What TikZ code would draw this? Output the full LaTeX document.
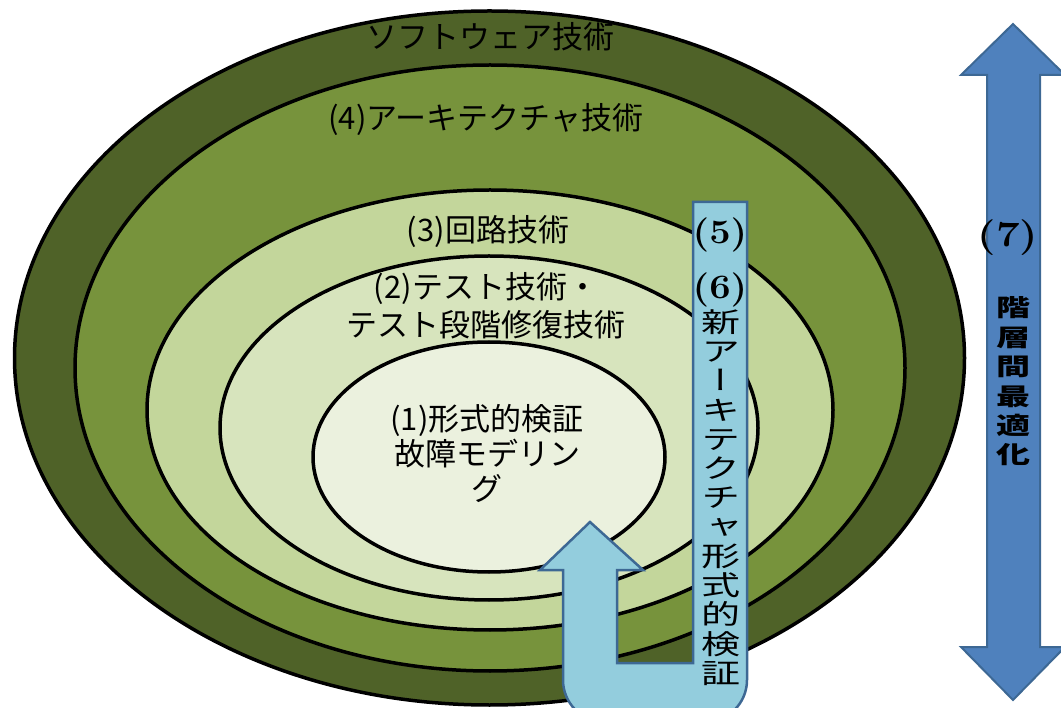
\documentclass[tikz,border=0pt]{standalone}
\usepackage{fontspec}
\usepackage{graphicx}
\newfontfamily\jp{Noto Sans CJK JP}
\newfontfamily\jpv[RawFeature=+vert]{Noto Sans CJK JP}
\definecolor{gA}{HTML}{4F6228}
\definecolor{gB}{HTML}{77933C}
\definecolor{gC}{HTML}{C3D69B}
\definecolor{gD}{HTML}{D7E4BD}
\definecolor{gE}{HTML}{EBF1DE}
\definecolor{lblue}{HTML}{93CDDD}
\definecolor{mblue}{HTML}{4F81BD}
\definecolor{bline}{HTML}{3D6894}
\newcommand\vch[1]{\scalebox{1}[0.7]{#1}}
\begin{document}
\begin{tikzpicture}[x=1pt,y=-1pt,
  ring/.style={draw=black,line width=3.5pt},
  lbl/.style={font=\jp\fontsize{31}{35}\selectfont,inner sep=0pt,align=center},
  vlbl/.style={font=\jpv\fontsize{39}{29.25}\selectfont,inner sep=0pt,align=center},
  numlbl/.style={font=\bfseries\fontsize{38}{38}\selectfont,inner sep=0pt},
  uarrow/.style={draw=bline,line width=2.5pt,fill=lblue,line join=miter},
  darrow/.style={draw=bline,line width=2pt,fill=mblue,line join=miter}]
\useasboundingbox (0,0) rectangle (1061,708);
\clip (0,0) rectangle (1061,708);
% nested ellipses
\draw[ring,fill=gA] (489.5,358) ellipse [x radius=475,y radius=347];
\draw[ring,fill=gB] (490,368) ellipse [x radius=415,y radius=303];
\draw[ring,fill=gC] (490,410) ellipse [x radius=343,y radius=220];
\draw[ring,fill=gD] (489,428) ellipse [x radius=269,y radius=172];
\draw[ring,fill=gE] (489,457) ellipse [x radius=176,y radius=115];
% U-turn arrow with box (5)(6)
\draw[uarrow] (693,202) -- (747,202) -- (747,680)
  arc[start angle=0,end angle=90,radius=42] -- (605,722)
  arc[start angle=90,end angle=180,radius=42] -- (563,570)
  -- (540,570) -- (590,522) -- (643,570) -- (617,570) -- (617,663)
  -- (693,663) -- cycle;
% double arrow (7)
\draw[darrow] (987,75) -- (961,75) -- (1013,24) -- (1065,75) -- (1040,75)
  -- (1040,647) -- (1065,647) -- (1013,700) -- (961,647) -- (987,647) -- cycle;
% labels
\node[lbl] (soft) at (490,37) {ソフトウェア技術};
\node[lbl] (arch) at (486,120) {(4)アーキテクチャ技術};
\node[lbl] (circ) at (488,232) {(3)回路技術};
\node[lbl,font=\jp\fontsize{31}{38}\selectfont] (test) at (486,306) {(2)テスト技術・\\テスト段階修復技術};
\node[lbl] (formal) at (487,453) {(1)形式的検証\\故障モデリン\\グ};
\node[numlbl] (n5) at (720,235) {\scalebox{1}[0.9]{(5)}};
\node[numlbl] (n6) at (720,290) {\scalebox{1}[0.9]{(6)}};
\node[vlbl] (newarch) at (721,497.5) {\vch{新}\\\vch{ア}\\\vch{ー}\\\vch{キ}\\\vch{テ}\\\vch{ク}\\\vch{チ}\\\vch{ャ}\\\vch{形}\\\vch{式}\\\vch{的}\\\vch{検}\\\vch{証}};
\node[numlbl,font=\bfseries\fontsize{42}{42}\selectfont] (n7) at (1008,238) {\scalebox{1}[0.85]{(7)}};
\node[vlbl,font=\jpv\bfseries\fontsize{34}{29.4}\selectfont] (opt) at (1013,381.5) {\vch{階}\\\vch{層}\\\vch{間}\\\vch{最}\\\vch{適}\\\vch{化}};
\end{tikzpicture}
\end{document}
